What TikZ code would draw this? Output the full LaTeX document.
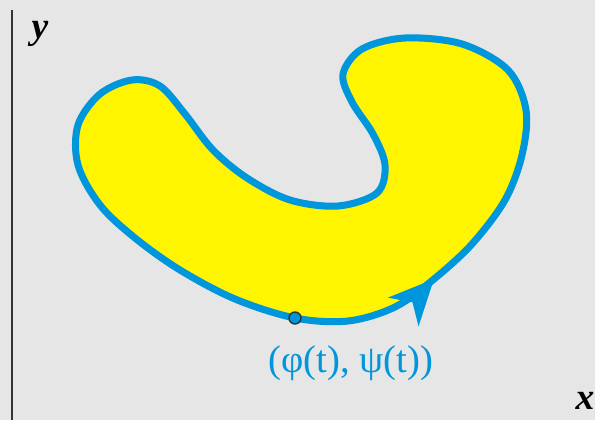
\documentclass[tikz,border=0pt]{standalone}
\usepackage{fontspec}
\setmainfont{Liberation Serif}
\usetikzlibrary{arrows.meta}
\definecolor{paper}{HTML}{E6E6E6}
\definecolor{curveblue}{HTML}{0096DC}
\definecolor{blobyellow}{HTML}{FFF500}
\definecolor{axisgray}{HTML}{333333}
\tikzset{
  blob/.style={fill=blobyellow, draw=curveblue, line width=6pt, line join=round},
  sense/.style={draw=curveblue, line width=6pt, -{Stealth[length=38pt, width=35pt, inset=11pt]}},
  axisname/.style={font=\fontsize{32}{36}\selectfont\bfseries\itshape, text=black, inner sep=0pt},
  ptlabel/.style={font=\fontsize{33}{38}\selectfont, text=curveblue, inner sep=0pt},
  ptdot/.style={shape=circle, fill=curveblue, draw=axisgray, line width=1.2pt, inner sep=0pt, minimum size=0.36cm}
}
\begin{document}
\begin{tikzpicture}[x=0.03cm, y=-0.03cm]
	% background and axis
	\fill[paper] (0,0) rectangle (595,420);
	\coordinate (axistop) at (12,10);
	\coordinate (axisbot) at (12,420);
	\draw[axisgray, line width=1.3pt] (axistop) -- (axisbot);
	% the region and its boundary curve
	\filldraw[blob] plot[smooth cycle, tension=0.55] coordinates {
		(295,318) (348,321) (395,307) (434,279) (472,244) (505,200) (522,155)
		(526,110) (508,70) (462,44) (405,38) (362,49) (343,74) (352,102)
		(373,134) (385,165) (377,193) (338,206) (290,200) (247,178) (213,150)
		(185,114) (160,86) (132,80) (100,94) (78,125) (78,165) (100,205)
		(135,238) (180,270) (235,299)};
	% direction of travel
	\coordinate (senseback) at (420,294);
	\coordinate (sensetip) at (434,279);
	\draw[sense] (senseback) -- (sensetip);
	\node[ptdot] (pt) at (295,318) {};
	% labels
	\node[ptlabel] (ptname) at (351,363) {(φ(t), ψ(t))};
	\node[axisname] (yname) at (40,34) {y};
	\node[axisname] (xname) at (585,401) {x};
\end{tikzpicture}
\end{document}
